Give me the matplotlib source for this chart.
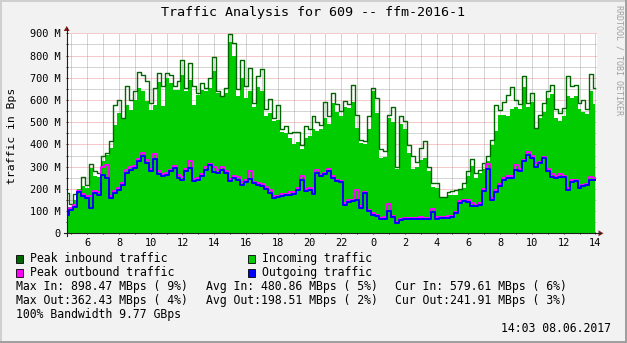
import numpy as np
import matplotlib
matplotlib.use("Agg")
import matplotlib.pyplot as plt
from matplotlib.lines import Line2D
from matplotlib.patches import Rectangle, Polygon

# samples every 15 minutes, hours counted from midnight of 07.06.2017
start_hour = 4.75
step_hour = 0.25

# values in MBps
avg_in = [120, 115, 150, 200, 211, 204, 294, 256, 252, 324, 354, 384, 489, 541, 519, 579, 556, 601, 654, 639, 594, 556,
          579, 680, 571, 699, 676, 646, 646, 714, 639, 691, 579, 624, 646, 639, 654, 729, 631, 616, 631, 860, 796, 620, 700,
          610, 640, 570, 660, 640, 530, 540, 505, 510, 455, 450, 430, 400, 410, 380, 430, 440, 470, 460, 470, 520, 490,
          585, 545, 530, 570, 565, 590, 474, 405, 400, 470, 640, 540, 340, 345, 520, 500, 290, 490, 470, 360, 290, 300,
          330, 340, 280, 210, 205, 159, 159, 174, 174, 174, 195, 204, 256, 301, 250, 270, 290, 324, 399, 459, 534, 534,
          530, 560, 570, 560, 660, 570, 590, 474, 520, 545, 610, 625, 520, 505, 530, 620, 610, 620, 560, 545, 535, 640, 580]
peak_in = [181, 130, 175, 189, 252, 219, 313, 279, 271, 346, 361, 414, 576, 601, 519, 661, 601, 639, 724, 714, 684, 586,
           654, 720, 661, 720, 714, 661, 684, 781, 654, 766, 661, 631, 676, 654, 699, 792, 642, 616, 654, 898, 856, 650, 780,
           661, 744, 586, 706, 740, 560, 606, 519, 576, 470, 481, 450, 456, 456, 399, 481, 470, 526, 500, 489, 591, 530,
           631, 580, 550, 594, 580, 666, 534, 420, 414, 530, 654, 609, 380, 369, 534, 567, 300, 526, 504, 399, 346, 319,
           384, 414, 300, 226, 226, 165, 165, 185, 190, 196, 200, 226, 279, 336, 270, 286, 316, 346, 421, 576, 556, 591,
           624, 657, 600, 580, 706, 586, 630, 474, 534, 586, 640, 669, 560, 540, 565, 706, 661, 666, 586, 601, 560, 717, 654]
avg_out = [84, 106, 120, 184, 166, 159, 114, 181, 174, 264, 249, 159, 181, 196, 219, 271, 286, 294, 324, 349, 316, 279,
           335, 268, 256, 264, 279, 294, 249, 241, 279, 294, 234, 241, 256, 286, 306, 274, 271, 286, 271, 234, 249, 241, 219,
           229, 246, 225, 219, 215, 200, 180, 160, 162, 170, 172, 174, 176, 196, 241, 189, 196, 175, 271, 256, 265, 280,
           249, 234, 230, 129, 141, 144, 151, 114, 181, 99, 84, 76, 66, 66, 102, 72, 46, 61, 64, 66, 66, 66,
           66, 66, 66, 95, 66, 69, 69, 70, 72, 90, 136, 144, 140, 125, 121, 126, 189, 291, 150, 185, 215, 240,
           249, 249, 286, 282, 324, 354, 339, 300, 316, 339, 280, 252, 249, 255, 252, 196, 231, 234, 204, 211, 216, 241, 242]
peak_out = [95, 112, 128, 190, 178, 170, 170, 190, 185, 300, 306, 170, 190, 205, 228, 285, 300, 305, 335, 362, 330, 290,
            358, 280, 265, 272, 285, 305, 262, 255, 290, 325, 245, 250, 265, 300, 310, 300, 285, 300, 280, 245, 258, 255, 230,
            238, 280, 232, 226, 222, 210, 195, 168, 170, 175, 178, 185, 184, 205, 256, 198, 205, 182, 285, 262, 272, 290,
            258, 242, 236, 138, 148, 150, 196, 125, 185, 105, 90, 82, 70, 72, 132, 80, 52, 66, 68, 70, 70, 70,
            72, 70, 70, 110, 72, 74, 75, 76, 80, 96, 145, 150, 148, 135, 128, 135, 198, 312, 160, 195, 222, 250,
            256, 258, 308, 290, 332, 364, 348, 315, 322, 345, 288, 268, 256, 268, 260, 205, 240, 242, 212, 218, 224, 252, 250]

hour_ticks = list(range(6, 39, 2))
hour_labels = [str(h % 24) for h in hour_ticks]
mb_ticks = [0, 100, 200, 300, 400, 500, 600, 700, 800, 900]
mb_labels = ["0"] + ["%d M" % v for v in mb_ticks[1:]]

legend_names = ["Peak inbound traffic", "Incoming traffic", "Peak outbound traffic", "Outgoing traffic"]
legend_colors = ["#006600", "#00CC00", "#FF00FF", "#0000FF"]
stats_lines = [["Max In: 898.47 MBps ( 9%)", "Avg In: 480.86 MBps ( 5%)", "Cur In: 579.61 MBps ( 6%)"],
               ["Max Out:362.43 MBps ( 4%)", "Avg Out:198.51 MBps ( 2%)", "Cur Out:241.91 MBps ( 3%)"],
               ["100% Bandwidth 9.77 GBps"]]
title = "Traffic Analysis for 609 -- ffm-2016-1"
stamp = "14:03 08.06.2017"

W, H = 627, 343
mono = "DejaVu Sans Mono"
grid_col = (0.56, 0.56, 0.56, 0.75)
mgrid_col = (0.87, 0.31, 0.31, 0.6)
axis_col = "#1F1F1F"
arrow_col = "#801F1F"


def fx(px):
    return px / W


def fy(py):
    return 1 - py / H


fig = plt.figure(figsize=(W / 100, H / 100), dpi=100, facecolor="#F2F2F2")

# shaded border
fig.add_artist(Line2D([0, 1], [fy(0.8), fy(0.8)], color="#CFCFCF", lw=1.4))
fig.add_artist(Line2D([fx(0.8), fx(0.8)], [0, 1], color="#CFCFCF", lw=1.4))
fig.add_artist(Line2D([0, 1], [fy(342.2), fy(342.2)], color="#9E9E9E", lw=1.4))
fig.add_artist(Line2D([fx(626.2), fx(626.2)], [0, 1], color="#9E9E9E", lw=1.4))

left, right, top, bottom = 66.7, 596.5, 33.3, 233.3
ax = fig.add_axes([fx(left), fy(bottom), fx(right - left), (bottom - top) / H])
ax.set_facecolor("white")
for s in ax.spines.values():
    s.set_visible(False)

hours = start_hour + step_hour * np.arange(len(avg_in))

# grid
for v in range(50, 900, 100):
    ax.axhline(v, color=grid_col, lw=0.72, ls=(0, (1, 1)), zorder=0)
for v in mb_ticks[1:]:
    ax.axhline(v, color=mgrid_col, lw=0.72, ls=(0, (1, 1)), zorder=0)
for h in range(5, 39):
    if h == 24:
        ax.axvline(h, color=mgrid_col, lw=0.72, ls=(0, (1, 1)), zorder=0)
    else:
        ax.axvline(h, color=grid_col, lw=0.72, ls=(0, (1, 1)), zorder=0)

ax.fill_between(hours, avg_in, step="mid", color="#00CC00", lw=0, zorder=2)
ax.step(hours, peak_in, where="mid", color="#006600", lw=1.0, zorder=3)
ax.step(hours, peak_out, where="mid", color="#FF00FF", lw=1.4, zorder=4)
ax.step(hours, avg_out, where="mid", color="#0000FF", lw=1.4, zorder=5)

ax.set_xlim(4.71, 38.07)
ax.set_ylim(0, 900)
ax.set_xticks(hour_ticks)
ax.set_xticklabels(hour_labels)
ax.set_xticks(range(5, 39), minor=True)
ax.set_yticks(mb_ticks)
ax.set_yticklabels(mb_labels)
ax.set_yticks(range(50, 900, 100), minor=True)
ax.tick_params(which="both", length=2, width=0.7, color=axis_col, direction="inout")
ax.tick_params(axis="x", labelsize=7.4, pad=2.2)
ax.tick_params(axis="y", labelsize=7.4, pad=3.5)
for lab in ax.get_xticklabels() + ax.get_yticklabels():
    lab.set_family(mono)

# axes with arrows
fig.add_artist(Line2D([fx(left), fx(left)], [fy(bottom + 3), fy(28)], color=axis_col, lw=0.8))
fig.add_artist(Line2D([fx(left - 3), fx(right + 3)], [fy(bottom), fy(bottom)], color=axis_col, lw=0.8))
fig.add_artist(Polygon([[fx(left - 3), fy(31)], [fx(left + 3), fy(31)], [fx(left), fy(26)]],
                       closed=True, color=arrow_col, lw=0))
fig.add_artist(Polygon([[fx(right + 2), fy(bottom - 3)], [fx(right + 2), fy(bottom + 3)], [fx(right + 7), fy(bottom)]],
                       closed=True, color=arrow_col, lw=0))

fig.text(fx(313), fy(12.5), title, ha="center", va="center", fontsize=9.6, family=mono)
fig.text(fx(12), fy(136), "traffic in Bps", rotation=90, ha="center", va="center", fontsize=8.2, family=mono)
fig.text(fx(619), fy(60), "RRDTOOL / TOBI OETIKER", rotation=270, ha="center", va="center",
         fontsize=6, family=mono, color="#A0A0A0")

# legend
box_x = [16, 248, 16, 248]
box_y = [258.5, 258.5, 272.5, 272.5]
for name, col, bx, by in zip(legend_names, legend_colors, box_x, box_y):
    fig.add_artist(Rectangle((fx(bx), fy(by + 4)), 7 / W, 8 / H, facecolor=col, edgecolor="black", lw=0.6))
    fig.text(fx(bx + 14), fy(by), name, ha="left", va="center", fontsize=8.3, family=mono)

row_y = [286.5, 300.5, 314.5]
col_x = [16, 206, 395]
for line, ry in zip(stats_lines, row_y):
    for txt, cx in zip(line, col_x):
        fig.text(fx(cx), fy(ry), txt, ha="left", va="center", fontsize=8.3, family=mono)

fig.text(fx(611), fy(329), stamp, ha="right", va="center", fontsize=8.3, family=mono)

fig.savefig("out.png", dpi=100, facecolor=fig.get_facecolor())
